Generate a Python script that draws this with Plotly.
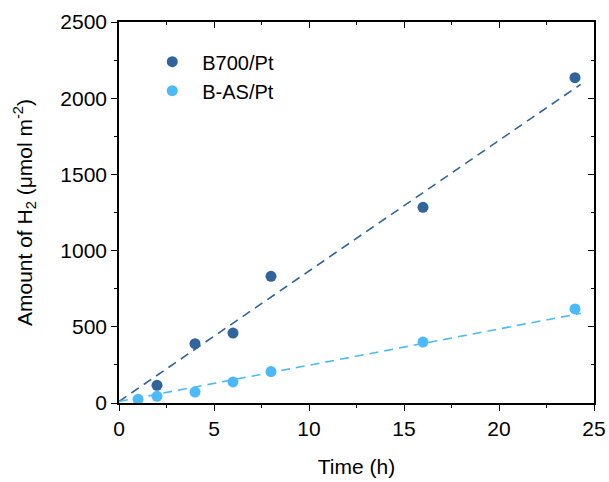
import plotly.graph_objects as go

# Data
time_b700 = [2, 4, 6, 8, 16, 24]
h2_b700 = [116, 389, 459, 831, 1284, 2135]
time_bas = [1, 2, 4, 6, 8, 16, 24]
h2_bas = [24, 44, 72, 138, 206, 400, 617]

# Linear fit lines
fit_time = [0, 24.3]
fit_b700 = [10, 2091]
fit_bas = [10, 588]

x_ticks = [0, 5, 10, 15, 20, 25]
y_ticks = [0, 500, 1000, 1500, 2000, 2500]

c_dark = "#30649c"
c_light = "#4cb9fb"
FONT = "Liberation Sans, Arial, sans-serif"
FS = 21

fig = go.Figure()
fig.add_trace(go.Scatter(x=fit_time, y=fit_b700, mode="lines",
                         line=dict(color=c_dark, width=1.6, dash="9px,6px"),
                         showlegend=False, hoverinfo="skip"))
fig.add_trace(go.Scatter(x=fit_time, y=fit_bas, mode="lines",
                         line=dict(color=c_light, width=1.6, dash="9px,6px"),
                         showlegend=False, hoverinfo="skip"))
fig.add_trace(go.Scatter(x=time_b700, y=h2_b700, mode="markers", name="B700/Pt",
                         marker=dict(color=c_dark, size=11, line=dict(width=0))))
fig.add_trace(go.Scatter(x=time_bas, y=h2_bas, mode="markers", name="B-AS/Pt",
                         marker=dict(color=c_light, size=11, line=dict(width=0))))

base = dict(showline=True, linecolor="black", linewidth=1.5, automargin=False,
            showgrid=False, zeroline=False, ticklen=6, tickwidth=1.3,
            tickcolor="black")
tickfont = dict(family=FONT, size=FS, color="black")

fig.update_layout(
    width=609, height=482,
    margin=dict(l=119, r=15, t=22, b=79),
    paper_bgcolor="white", plot_bgcolor="white",
    font=dict(family=FONT, size=FS, color="black"),
    showlegend=True,
    legend=dict(x=0.049, y=0.947, xanchor="left", yanchor="top",
                bgcolor="rgba(0,0,0,0)", font=dict(family=FONT, size=20),
                itemwidth=50, tracegroupgap=0),
    xaxis=dict(range=[0, 25], tickvals=x_ticks, ticks="outside", tickfont=tickfont,
               minor=dict(dtick=2.5, ticks="outside", ticklen=3, tickcolor="black", tickwidth=1.2),
               title=dict(text="Time (h)", standoff=20,
                          font=dict(family=FONT, size=FS)),
               **base),
    yaxis=dict(range=[0, 2500], tickvals=y_ticks, ticks="outside", tickfont=tickfont,
               minor=dict(dtick=250, ticks="outside", ticklen=3, tickcolor="black", tickwidth=1.2),
               title=dict(text="Amount of H<sub>2</sub> (μmol m<sup>-2</sup>)", standoff=22,
                          font=dict(family=FONT, size=FS)),
               **base),
    xaxis2=dict(range=[0, 25], tickvals=x_ticks, ticks="inside", overlaying="x",
                side="top", showticklabels=False, anchor="y",
                minor=dict(dtick=2.5, ticks="inside", ticklen=3, tickcolor="black", tickwidth=1.2),
                **base),
    yaxis2=dict(range=[0, 2500], tickvals=y_ticks, ticks="inside", overlaying="y",
                side="right", showticklabels=False, anchor="x",
                minor=dict(dtick=250, ticks="inside", ticklen=3, tickcolor="black", tickwidth=1.2),
                **base),
)
# invisible trace to activate the mirrored axes
fig.add_trace(go.Scatter(x=[None], y=[None], xaxis="x2", yaxis="y2",
                         showlegend=False, hoverinfo="skip"))

fig.write_html("out.html", config={"displayModeBar": False},
               post_script="document.body.style.margin='0';")
